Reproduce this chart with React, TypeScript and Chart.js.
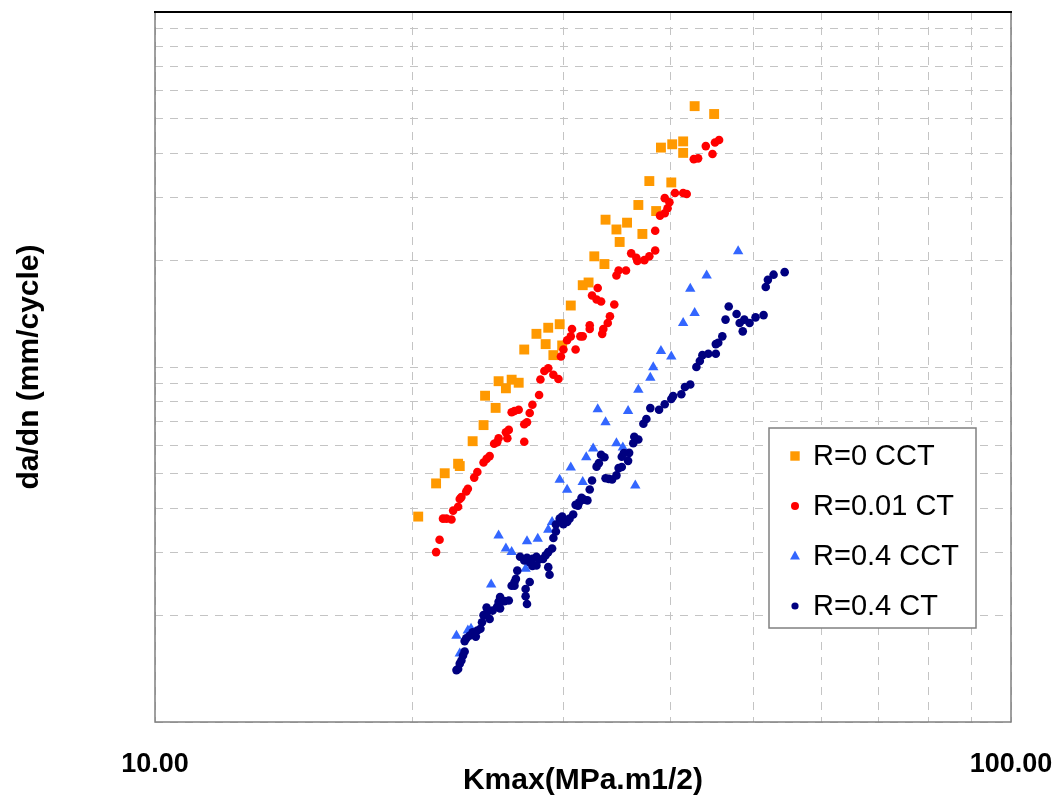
import React, { useEffect, useRef } from 'react';
import { Chart, registerables } from 'chart.js';

Chart.register(...registerables);

// ---- Text ----
const seriesLabels = ['R=0 CCT', 'R=0.01 CT', 'R=0.4 CCT', 'R=0.4 CT'];
const xTitle = 'Kmax(MPa.m1/2)';
const yTitle = 'da/dn (mm/cycle)';
const xLabelValues = [10, 100];
const xTickLabels = ['10.00', '100.00'];

// ---- Axis tick / grid values ----
const xGridValues = [10, 20, 30, 40, 50, 60, 70, 80, 90, 100];
const yGridValues = [1e-5, 2e-5, 3e-5, 4e-5, 5e-5, 6e-5, 7e-5, 8e-5, 9e-5, 1e-4, 2e-4, 3e-4, 4e-4, 5e-4, 6e-4, 7e-4, 8e-4, 9e-4, 1e-3];

// ---- Data: Kmax (MPa.m1/2) and da/dn (mm/cycle) ----
const r0cctK = [42.7, 45.0, 39.0, 40.2, 41.4, 41.4, 37.8, 40.1, 36.7, 38.5, 33.6, 35.6, 34.6, 37.1, 34.9, 32.6, 33.5, 32.1, 31.6, 30.6, 29.7, 28.8, 27.9, 28.6, 27.0, 29.2, 29.9, 25.2, 26.1, 26.6, 25.7, 24.3, 25.0, 24.2, 23.5, 22.6, 22.7, 21.8, 21.3, 20.3];
const r0cctRate = [5.43e-4, 5.16e-4, 4.15e-4, 4.24e-4, 4.32e-4, 4.01e-4, 3.34e-4, 3.31e-4, 2.86e-4, 2.75e-4, 2.60e-4, 2.55e-4, 2.44e-4, 2.37e-4, 2.25e-4, 2.05e-4, 1.95e-4, 1.73e-4, 1.70e-4, 1.49e-4, 1.32e-4, 1.29e-4, 1.24e-4, 1.16e-4, 1.12e-4, 1.08e-4, 1.15e-4, 9.12e-5, 9.21e-5, 9.03e-5, 8.71e-5, 8.30e-5, 7.67e-5, 6.86e-5, 6.18e-5, 5.34e-5, 5.26e-5, 5.02e-5, 4.70e-5, 3.79e-5];

const r001ctK = [45.6, 45.1, 44.0, 44.8, 43.1, 42.6, 40.5, 41.4, 41.8, 39.4, 39.9, 39.7, 39.4, 38.9, 38.4, 38.4, 37.8, 37.3, 36.6, 36.5, 36.0, 35.5, 34.8, 34.6, 32.9, 32.4, 32.8, 33.2, 34.4, 34.0, 33.8, 33.4, 33.3, 32.2, 32.2, 31.6, 31.4, 30.7, 30.6, 30.3, 31.0, 30.0, 29.8, 28.8, 28.5, 29.2, 29.6, 28.2, 28.1, 27.6, 27.4, 26.6, 26.3, 26.1, 27.2, 27.0, 25.9, 25.7, 25.8, 25.2, 25.1, 24.9, 27.0, 24.6, 24.4, 24.2, 23.8, 23.6, 23.2, 23.1, 22.8, 22.7, 22.6, 22.3, 22.2, 21.9, 21.7, 21.5, 21.3];
const r001ctRate = [4.36e-4, 4.29e-4, 4.19e-4, 3.98e-4, 3.87e-4, 3.85e-4, 3.09e-4, 3.09e-4, 3.07e-4, 2.99e-4, 2.91e-4, 2.80e-4, 2.71e-4, 2.67e-4, 2.42e-4, 2.13e-4, 2.05e-4, 2.00e-4, 1.99e-4, 2.03e-4, 2.09e-4, 1.87e-4, 1.87e-4, 1.81e-4, 1.67e-4, 1.59e-4, 1.55e-4, 1.53e-4, 1.50e-4, 1.39e-4, 1.33e-4, 1.28e-4, 1.24e-4, 1.31e-4, 1.28e-4, 1.22e-4, 1.22e-4, 1.28e-4, 1.22e-4, 1.19e-4, 1.12e-4, 1.12e-4, 1.07e-4, 9.92e-5, 9.74e-5, 9.51e-5, 9.25e-5, 9.22e-5, 8.34e-5, 7.83e-5, 7.42e-5, 7.58e-5, 7.52e-5, 7.46e-5, 6.99e-5, 6.90e-5, 6.65e-5, 6.55e-5, 6.30e-5, 6.30e-5, 6.14e-5, 6.08e-5, 6.16e-5, 5.61e-5, 5.51e-5, 5.38e-5, 5.06e-5, 4.88e-5, 4.54e-5, 4.46e-5, 4.30e-5, 4.25e-5, 4.04e-5, 3.94e-5, 3.72e-5, 3.74e-5, 3.74e-5, 3.26e-5, 3.01e-5];

const r04cctK = [48.0, 44.1, 42.2, 42.7, 41.4, 39.0, 40.1, 38.2, 37.9, 36.7, 32.9, 35.7, 33.6, 34.6, 35.2, 32.5, 31.9, 30.6, 29.7, 31.6, 30.3, 36.4, 29.1, 28.8, 25.2, 27.2, 28.0, 25.7, 26.1, 27.1, 24.7, 22.5, 23.2, 23.4, 22.7];
const r04cctRate = [2.12e-4, 1.81e-4, 1.66e-4, 1.42e-4, 1.33e-4, 1.11e-4, 1.07e-4, 9.98e-5, 9.32e-5, 8.63e-5, 7.60e-5, 7.52e-5, 6.99e-5, 6.10e-5, 5.93e-5, 5.89e-5, 5.57e-5, 5.21e-5, 4.81e-5, 4.74e-5, 4.51e-5, 4.64e-5, 3.66e-5, 3.48e-5, 3.35e-5, 3.23e-5, 3.28e-5, 3.08e-5, 3.01e-5, 2.70e-5, 2.44e-5, 1.75e-5, 1.81e-5, 1.83e-5, 1.56e-5];

const r04ctK = [54.4, 52.8, 52.0, 51.7, 51.4, 50.3, 49.5, 48.8, 48.2, 47.8, 46.8, 46.4, 48.6, 46.0, 45.5, 45.2, 45.2, 44.3, 43.6, 43.3, 42.9, 42.2, 41.6, 41.2, 40.3, 40.1, 39.4, 38.8, 37.9, 37.5, 37.2, 36.7, 36.3, 36.2, 35.8, 35.3, 35.1, 35.7, 35.1, 34.8, 34.6, 34.2, 33.9, 33.6, 33.2, 33.5, 33.0, 32.8, 32.4, 32.2, 32.0, 31.7, 31.5, 31.3, 31.0, 31.2, 30.8, 30.5, 30.3, 30.0, 29.7, 29.9, 29.4, 29.4, 29.2, 29.1, 28.8, 28.6, 28.4, 28.1, 27.9, 27.6, 27.4, 27.2, 27.0, 26.7, 26.5, 27.9, 27.6, 28.8, 28.9, 27.4, 27.1, 27.1, 27.2, 26.4, 26.3, 26.1, 26.3, 25.9, 25.6, 25.3, 25.2, 25.1, 24.8, 25.3, 24.4, 24.2, 24.4, 24.6, 24.1, 24.0, 23.8, 23.5, 23.3, 23.1, 23.0, 23.7, 23.0, 22.9, 22.8, 22.7, 22.6, 22.5];
const r04ctRate = [1.85e-4, 1.82e-4, 1.76e-4, 1.68e-4, 1.40e-4, 1.38e-4, 1.33e-4, 1.36e-4, 1.33e-4, 1.41e-4, 1.48e-4, 1.36e-4, 1.26e-4, 1.22e-4, 1.17e-4, 1.16e-4, 1.09e-4, 1.09e-4, 1.08e-4, 1.04e-4, 1.00e-4, 8.93e-5, 8.78e-5, 8.38e-5, 8.28e-5, 8.13e-5, 7.85e-5, 7.58e-5, 7.66e-5, 7.14e-5, 6.92e-5, 6.25e-5, 6.36e-5, 6.10e-5, 5.73e-5, 5.72e-5, 5.59e-5, 5.44e-5, 5.23e-5, 5.19e-5, 4.95e-5, 4.82e-5, 4.84e-5, 4.86e-5, 5.66e-5, 5.57e-5, 5.36e-5, 5.24e-5, 4.79e-5, 4.52e-5, 4.21e-5, 4.23e-5, 4.28e-5, 4.16e-5, 4.09e-5, 4.07e-5, 3.84e-5, 3.74e-5, 3.66e-5, 3.61e-5, 3.74e-5, 3.79e-5, 3.60e-5, 3.44e-5, 3.30e-5, 3.08e-5, 3.01e-5, 2.95e-5, 2.88e-5, 2.87e-5, 2.92e-5, 2.88e-5, 2.82e-5, 2.90e-5, 2.85e-5, 2.92e-5, 2.67e-5, 2.76e-5, 2.75e-5, 2.73e-5, 2.60e-5, 2.48e-5, 2.37e-5, 2.26e-5, 2.15e-5, 2.53e-5, 2.48e-5, 2.42e-5, 2.42e-5, 2.20e-5, 2.19e-5, 2.25e-5, 2.18e-5, 2.11e-5, 2.06e-5, 2.09e-5, 2.10e-5, 2.00e-5, 2.02e-5, 1.95e-5, 1.91e-5, 1.83e-5, 1.81e-5, 1.79e-5, 1.75e-5, 1.72e-5, 1.69e-5, 1.74e-5, 1.58e-5, 1.54e-5, 1.49e-5, 1.46e-5, 1.41e-5, 1.40e-5];

const xMin = 10;
const xMax = 100;
const yMin = 1e-5;
const yMax = 1e-3;

const FONT = "'Liberation Sans', Arial, Helvetica, sans-serif";

const toPoints = (k: number[], r: number[]) => k.map((x, i) => ({ x, y: r[i] }));

const styles = [
  { color: '#FF9900', pointStyle: 'rect', radius: 7, legendSize: 4.7, order: 4 },
  { color: '#FF0000', pointStyle: 'circle', radius: 4.3, legendSize: 4, order: 3 },
  { color: '#3366FF', pointStyle: 'triangle', radius: 6, legendSize: 5.5, order: 2 },
  { color: '#000080', pointStyle: 'circle', radius: 4.3, legendSize: 3.6, order: 1 },
];

const framePlugin = {
  id: 'frame',
  beforeDatasetsDraw(chart: any) {
    const { ctx, chartArea: a } = chart;
    ctx.save();
    ctx.strokeStyle = '#808080';
    ctx.lineWidth = 1.5;
    ctx.beginPath();
    ctx.moveTo(a.left, a.top);
    ctx.lineTo(a.left, a.bottom);
    ctx.lineTo(a.right, a.bottom);
    ctx.lineTo(a.right, a.top);
    ctx.stroke();
    ctx.strokeStyle = '#000000';
    ctx.lineWidth = 2;
    ctx.beginPath();
    ctx.moveTo(a.left - 1, a.top);
    ctx.lineTo(a.right + 1, a.top);
    ctx.stroke();
    ctx.restore();
  },
};

const boxLegendPlugin = {
  id: 'boxLegend',
  afterDraw(chart: any) {
    const { ctx } = chart;
    const bx = 769, by = 428, bw = 207, bh = 200;
    ctx.save();
    ctx.fillStyle = '#ffffff';
    ctx.fillRect(bx, by, bw, bh);
    ctx.strokeStyle = '#808080';
    ctx.lineWidth = 1.5;
    ctx.strokeRect(bx, by, bw, bh);
    ctx.font = `29px ${FONT}`;
    ctx.textBaseline = 'middle';
    ctx.textAlign = 'left';
    chart.data.datasets.forEach((ds: any, i: number) => {
      const cy = 456 + i * 50;
      const mx = 795;
      const st = styles[i];
      ctx.fillStyle = st.color;
      const s = st.legendSize;
      if (st.pointStyle === 'rect') {
        ctx.fillRect(mx - s, cy - s, 2 * s, 2 * s);
      } else if (st.pointStyle === 'triangle') {
        ctx.beginPath();
        ctx.moveTo(mx, cy - s);
        ctx.lineTo(mx + s * 0.9, cy + s * 0.65);
        ctx.lineTo(mx - s * 0.9, cy + s * 0.65);
        ctx.closePath();
        ctx.fill();
      } else {
        ctx.beginPath();
        ctx.arc(mx, cy, s, 0, Math.PI * 2);
        ctx.fill();
      }
      ctx.fillStyle = '#000000';
      ctx.fillText(ds.label, 813, cy + 1);
    });
    ctx.restore();
  },
};

export default function App() {
  const canvasRef = useRef<HTMLCanvasElement | null>(null);

  useEffect(() => {
    const canvas = canvasRef.current;
    if (!canvas) return;
    const seriesK = [r0cctK, r001ctK, r04cctK, r04ctK];
    const seriesR = [r0cctRate, r001ctRate, r04cctRate, r04ctRate];
    const datasets = seriesLabels.map((label, i) => ({
      label,
      data: toPoints(seriesK[i], seriesR[i]),
      backgroundColor: styles[i].color,
      borderColor: styles[i].color,
      pointStyle: styles[i].pointStyle,
      pointRadius: styles[i].radius,
      pointBorderWidth: 0,
      showLine: false,
      order: styles[i].order,
    }));

    const gridColor = '#c4c4c4';
    const chart = new Chart(canvas, {
      type: 'scatter',
      data: { datasets } as any,
      options: {
        animation: false,
        responsive: false,
        layout: { padding: { left: 0, top: 12, right: 45, bottom: 0 } },
        plugins: {
          legend: { display: false },
          tooltip: { enabled: false },
        },
        scales: {
          x: {
            type: 'logarithmic',
            min: xMin,
            max: xMax,
            grid: { color: gridColor, lineWidth: 1, drawTicks: false, borderDash: [8, 7] } as any,
            border: { display: false, dash: [8, 7] },
            afterBuildTicks: (s: any) => {
              s.ticks = xGridValues.map((v) => ({ value: v }));
            },
            ticks: {
              autoSkip: false,
              maxRotation: 0,
              minRotation: 0,
              padding: 26,
              color: '#000000',
              font: { family: FONT, size: 27, weight: 'bold' },
              callback: (v: any) => {
                const idx = xLabelValues.findIndex((t) => Math.abs(t - Number(v)) < 1e-6);
                return idx >= 0 ? xTickLabels[idx] : '';
              },
            },
            title: {
              display: true,
              text: xTitle,
              color: '#000000',
              font: { family: FONT, size: 30, weight: 'bold' },
              padding: { top: 0, bottom: 0 },
            },
            afterFit: (s: any) => {
              s.height = 77;
              s.paddingLeft = 0;
              s.paddingRight = 0;
            },
          },
          y: {
            type: 'logarithmic',
            min: yMin,
            max: yMax,
            grid: { color: gridColor, lineWidth: 1, drawTicks: false, borderDash: [8, 7] } as any,
            border: { display: false, dash: [8, 7] },
            afterBuildTicks: (s: any) => {
              s.ticks = yGridValues.map((v) => ({ value: v }));
            },
            ticks: { display: false, autoSkip: false },
            title: {
              display: true,
              text: yTitle,
              color: '#000000',
              font: { family: FONT, size: 30, weight: 'bold' },
              padding: { top: 12, bottom: 0 },
            },
            afterFit: (s: any) => {
              s.width = 155;
              s.paddingTop = 0;
              s.paddingBottom = 0;
            },
          },
        },
      } as any,
      plugins: [framePlugin, boxLegendPlugin],
    });
    return () => chart.destroy();
  }, []);

  return (
    <div style={{ position: 'absolute', left: 0, top: 0, width: 1056, height: 799, background: '#ffffff' }}>
      <canvas ref={canvasRef} width={1056} height={799} style={{ display: 'block' }} />
    </div>
  );
}
